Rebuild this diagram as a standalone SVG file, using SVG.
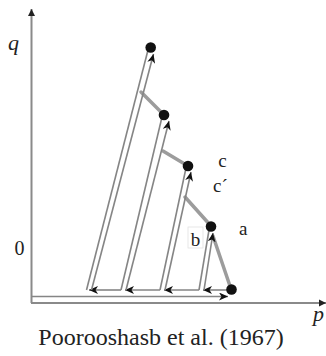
<svg xmlns="http://www.w3.org/2000/svg" width="326" height="356" viewBox="0 0 326 356">
<style>
.ax{stroke:#8a8a8a;stroke-width:2;fill:none}
.ln{stroke:#858585;stroke-width:1.6;fill:none}
.yl{stroke:#9c9c9c;stroke-width:3.5;fill:none;stroke-linecap:round}
.dot{fill:#111}
text{font-family:'Liberation Serif','Times New Roman',Times,serif;fill:#222}
.it{font-style:italic}
</style>
<defs>
<marker id="ah" markerWidth="10" markerHeight="8" refX="9" refY="4" orient="auto" markerUnits="userSpaceOnUse">
<path d="M0,0 L9,4 L0,8 L2.5,4 z" fill="#111"/>
</marker>
<marker id="axh" markerWidth="8" markerHeight="8" refX="7" refY="4" orient="auto" markerUnits="userSpaceOnUse">
<path d="M0,0.5 L7,4 L0,7.5 z" fill="#222"/>
</marker>
</defs>
<g id="axes">
<line class="ax" x1="31.5" y1="303" x2="31.5" y2="9" marker-end="url(#axh)"/>
<line class="ax" x1="31" y1="303" x2="326" y2="303" marker-end="url(#axh)"/>
</g>
<g id="connectors">
<line class="ln" x1="31.5" y1="296.5" x2="228" y2="296.5" marker-end="url(#ah)"/>
<line class="yl" x1="231" y1="289" x2="213" y2="236"/>
<line class="yl" x1="211" y1="226" x2="185" y2="197"/>
<line class="yl" x1="188" y1="166" x2="163" y2="151"/>
<line class="yl" x1="164" y1="115" x2="141" y2="92"/>
<line class="ln" x1="231" y1="290" x2="203" y2="290" marker-end="url(#ah)"/>
<line class="ln" x1="199" y1="290" x2="164" y2="290" marker-end="url(#ah)"/>
<line class="ln" x1="160" y1="290" x2="125" y2="290" marker-end="url(#ah)"/>
<line class="ln" x1="121" y1="290" x2="89" y2="290" marker-end="url(#ah)"/>
<line class="ln" x1="91.5" y1="290" x2="153.5" y2="54" marker-end="url(#ah)"/>
<line class="ln" x1="148" y1="50" x2="86.5" y2="290"/>
<line class="ln" x1="126" y1="290" x2="169" y2="121" marker-end="url(#ah)"/>
<line class="ln" x1="162" y1="117" x2="121" y2="290"/>
<line class="ln" x1="165" y1="290" x2="191" y2="172" marker-end="url(#ah)"/>
<line class="ln" x1="186" y1="168" x2="160" y2="290"/>
<line class="ln" x1="204" y1="290" x2="213" y2="233" marker-end="url(#ah)"/>
<line class="ln" x1="209" y1="230" x2="199" y2="290"/>
</g>
<g id="n1"><circle class="dot" cx="150.7" cy="47.5" r="5.3"/></g>
<g id="n2"><circle class="dot" cx="164" cy="115" r="5.3"/></g>
<g id="n3"><circle class="dot" cx="188" cy="166" r="5.3"/></g>
<g id="n4"><circle class="dot" cx="211" cy="226.5" r="5.3"/></g>
<g id="n5"><circle class="dot" cx="231.5" cy="289.5" r="5.3"/></g>
<g id="labels">
<text class="it" font-family="Liberation Serif, serif" x="8" y="50" font-size="22">q</text>
<text class="it" font-family="Liberation Serif, serif" x="313" y="321" font-size="22">p</text>
<text font-family="Liberation Serif, serif" x="19.5" y="255" font-size="20" text-anchor="middle">0</text>
<text font-family="Liberation Serif, serif" x="222.5" y="167" font-size="19" text-anchor="middle">c</text>
<text font-family="Liberation Serif, serif" x="213" y="192" font-size="19">c´</text>
<text font-family="Liberation Serif, serif" x="239" y="235" font-size="19">a</text>
<g id="lb"><rect x="188" y="227" width="15" height="21" fill="#fff" stroke="#e2e2e2" stroke-width="0.8"/>
<text font-family="Liberation Serif, serif" x="195.5" y="246" font-size="19" text-anchor="middle">b</text></g>
<text font-family="Liberation Serif, serif" x="161" y="345" font-size="24" text-anchor="middle">Poorooshasb et al. (1967)</text>
</g>
</svg>
